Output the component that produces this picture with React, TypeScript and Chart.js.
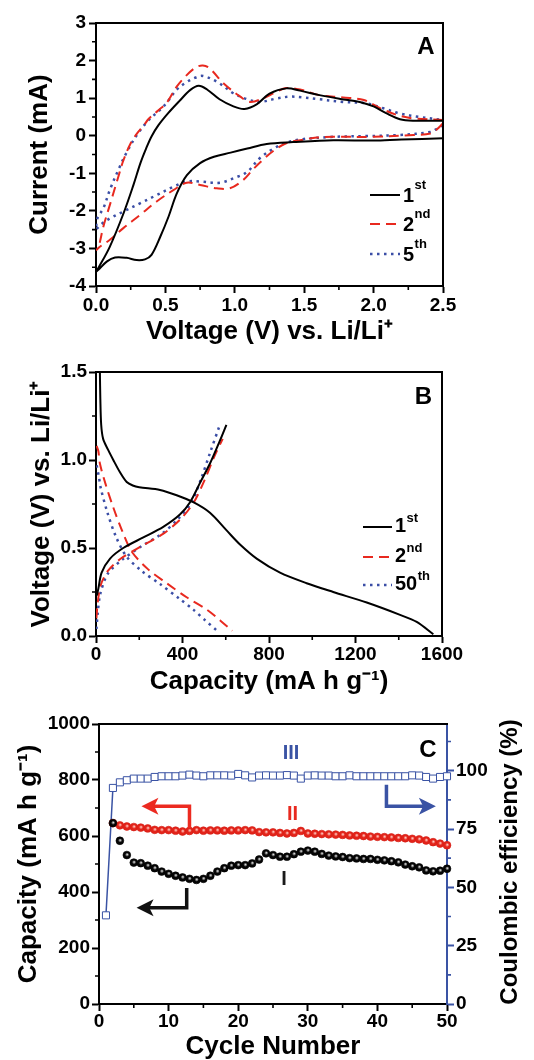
import React, { useEffect, useRef } from "react";
import { Chart, registerables } from "chart.js";
Chart.register(...registerables);

const FAMILY = '"Liberation Sans", Arial, Helvetica, sans-serif';
const BLACK = "#000000";
const RED = "#e8291f";
const BLUE = "#3b4ea6";
const CBLUE = "#3a53a4";

// ---------------- Panel A: cyclic voltammetry ----------------
const aXTicks = [0, 0.5, 1.0, 1.5, 2.0, 2.5];
const aXMinor = [0.25, 0.75, 1.25, 1.75, 2.25];
const aYTicks = [-4, -3, -2, -1, 0, 1, 2, 3];
const aYMinor = [-3.5, -2.5, -1.5, -0.5, 0.5, 1.5, 2.5];

const cv1CathV = [2.5, 2.2, 2.0, 1.71, 1.42, 1.23, 1.09, 0.97, 0.85, 0.75, 0.655, 0.583, 0.523, 0.463, 0.4, 0.353, 0.293, 0.221, 0.137, 0.077, 0.017, 0];
const cv1CathI = [-0.07, -0.1, -0.13, -0.12, -0.17, -0.22, -0.34, -0.45, -0.56, -0.73, -1.05, -1.53, -2.15, -2.69, -3.17, -3.29, -3.31, -3.25, -3.24, -3.35, -3.57, -3.62];
const cv1AnodV = [0, 0.02, 0.1, 0.2, 0.27, 0.32, 0.36, 0.4, 0.45, 0.52, 0.6, 0.68, 0.74, 0.8, 0.89, 0.99, 1.07, 1.16, 1.25, 1.37, 1.47, 1.61, 1.76, 1.9, 2.0, 2.09, 2.19, 2.29, 2.5];
const cv1AnodI = [-3.62, -3.5, -2.95, -2.05, -1.31, -0.73, -0.35, -0.02, 0.28, 0.6, 0.92, 1.22, 1.33, 1.23, 0.97, 0.78, 0.71, 0.84, 1.12, 1.26, 1.2, 1.08, 0.98, 0.9, 0.78, 0.6, 0.44, 0.4, 0.4];

const cv2CathV = [2.5, 2.45, 2.41, 2.29, 2.0, 1.71, 1.59, 1.47, 1.37, 1.28, 1.2, 1.13, 1.06, 0.965, 0.87, 0.75, 0.653, 0.557, 0.437, 0.317, 0.197, 0.1, 0.03, 0];
const cv2CathI = [0.33, 0.15, 0.06, 0.02, -0.03, -0.03, -0.05, -0.12, -0.2, -0.4, -0.65, -0.9, -1.18, -1.4, -1.4, -1.31, -1.25, -1.45, -1.75, -2.11, -2.46, -2.77, -2.95, -3.05];
const cv2AnodV = [0, 0.017, 0.053, 0.1, 0.161, 0.197, 0.25, 0.3, 0.34, 0.38, 0.45, 0.51, 0.58, 0.65, 0.72, 0.77, 0.82, 0.92, 1.04, 1.11, 1.2, 1.3, 1.37, 1.47, 1.61, 1.78, 1.93, 2.05, 2.17, 2.29, 2.5];
const cv2AnodI = [-3.05, -2.98, -2.42, -1.84, -1.09, -0.66, -0.2, 0.08, 0.25, 0.45, 0.68, 0.88, 1.3, 1.6, 1.82, 1.87, 1.79, 1.39, 1.04, 0.9, 0.99, 1.17, 1.27, 1.23, 1.08, 1.02, 0.95, 0.73, 0.55, 0.46, 0.42];

const cv5CathV = [2.5, 2.45, 2.41, 2.19, 1.95, 1.71, 1.47, 1.37, 1.28, 1.18, 1.09, 1.013, 0.893, 0.75, 0.653, 0.557, 0.437, 0.317, 0.197, 0.1, 0.04, 0];
const cv5CathI = [0.28, 0.17, 0.1, 0.02, -0.01, -0.03, -0.1, -0.19, -0.34, -0.6, -0.96, -1.1, -1.25, -1.22, -1.22, -1.36, -1.58, -1.8, -2.02, -2.2, -2.35, -2.5];
const cv5AnodV = [0, 0.01, 0.053, 0.1, 0.161, 0.22, 0.3, 0.38, 0.45, 0.51, 0.58, 0.65, 0.72, 0.77, 0.87, 0.99, 1.09, 1.18, 1.3, 1.4, 1.49, 1.61, 1.78, 1.95, 2.07, 2.19, 2.33, 2.5];
const cv5AnodI = [-2.5, -2.2, -1.93, -1.44, -0.91, -0.45, 0.05, 0.42, 0.65, 0.88, 1.22, 1.42, 1.55, 1.59, 1.44, 1.13, 0.97, 0.9, 0.99, 1.04, 1.02, 0.97, 0.9, 0.86, 0.73, 0.59, 0.5, 0.42];

const aLegendMain = ["1", "2", "5"];
const aLegendSup = ["st", "nd", "th"];

// ---------------- Panel B: charge/discharge profiles ----------------
const bXTicks = [0, 400, 800, 1200, 1600];
const bXMinor = [200, 600, 1000, 1400];
const bYTicks = [0, 0.5, 1.0, 1.5];
const bYMinor = [0.25, 0.75, 1.25];

const d1Cap = [18, 20, 24, 33, 55, 80, 111, 142, 170, 200, 296, 373, 450, 527, 604, 666, 743, 851, 974, 1097, 1252, 1406, 1483, 1560];
const d1V = [1.5, 1.35, 1.2, 1.12, 1.06, 1.0, 0.93, 0.875, 0.855, 0.845, 0.83, 0.8, 0.76, 0.7, 0.6, 0.52, 0.44, 0.36, 0.3, 0.25, 0.19, 0.12, 0.08, 0.01];
const c1Cap = [4, 11, 26, 65, 126, 219, 311, 388, 435, 481, 527, 573, 603];
const c1V = [0.23, 0.27, 0.36, 0.44, 0.5, 0.56, 0.62, 0.69, 0.76, 0.87, 0.98, 1.11, 1.2];

const d2Cap = [3, 11, 18, 45, 80, 120, 165, 240, 327, 419, 512, 573, 630];
const d2V = [1.08, 1.05, 0.98, 0.86, 0.73, 0.6, 0.48, 0.38, 0.3, 0.22, 0.15, 0.09, 0.03];
const c2Cap = [2, 8, 22, 55, 115, 210, 310, 388, 450, 500, 547, 586];
const c2V = [0.1, 0.19, 0.29, 0.37, 0.44, 0.51, 0.58, 0.66, 0.755, 0.88, 1.02, 1.12];

const d50Cap = [3, 14, 22, 53, 92, 142, 211, 296, 388, 450, 504, 560];
const d50V = [0.97, 0.9, 0.84, 0.7, 0.565, 0.45, 0.37, 0.295, 0.21, 0.15, 0.09, 0.03];
const c50Cap = [2, 8, 20, 55, 118, 210, 303, 380, 442, 488, 530, 570];
const c50V = [0.04, 0.13, 0.24, 0.355, 0.43, 0.51, 0.58, 0.665, 0.76, 0.9, 1.05, 1.19];

const bLegendMain = ["1", "2", "50"];
const bLegendSup = ["st", "nd", "th"];

// ---------------- Panel C: cycling ----------------
const cXTicks = [0, 10, 20, 30, 40, 50];
const cXMinor = [5, 15, 25, 35, 45];
const cYTicks = [0, 200, 400, 600, 800, 1000];
const cYMinor = [100, 300, 500, 700, 900];
const cY1Ticks = [0, 25, 50, 75, 100];
const cY1Minor = [12.5, 37.5, 62.5, 87.5, 112.5];

const cycles = [1, 2, 3, 4, 5, 6, 7, 8, 9, 10, 11, 12, 13, 14, 15, 16, 17, 18, 19, 20, 21, 22, 23, 24, 25, 26, 27, 28, 29, 30, 31, 32, 33, 34, 35, 36, 37, 38, 39, 40, 41, 42, 43, 44, 45, 46, 47, 48, 49, 50];
const capI = [null, 646, 583, 532, 505, 503, 494, 485, 473, 465, 458, 452, 447, 443, 447, 458, 473, 485, 494, 496, 496, 502, 516, 538, 532, 526, 526, 535, 544, 548, 544, 536, 530, 527, 525, 521, 520, 518, 518, 515, 513, 510, 506, 498, 492, 488, 477, 474, 476, 483];
const capII = [null, 646, 638, 634, 632, 630, 627, 622, 621, 621, 619, 616, 618, 621, 619, 620, 620, 619, 620, 620, 621, 620, 614, 613, 613, 611, 609, 611, 618, 609, 608, 607, 606, 605, 604, 602, 601, 600, 598, 597, 596, 595, 593, 592, 590, 588, 584, 578, 573, 567];
const effIII = [38.0, 92.6, 95.0, 95.9, 96.6, 96.6, 96.6, 97.3, 97.6, 97.6, 97.6, 97.9, 98.3, 97.9, 97.6, 98.0, 98.0, 98.0, 97.9, 98.6, 98.0, 97.1, 97.9, 98.0, 97.9, 97.9, 98.1, 97.9, 96.6, 97.9, 98.0, 97.9, 97.9, 97.6, 97.6, 98.0, 97.6, 97.6, 97.6, 97.6, 97.6, 97.6, 97.6, 97.6, 98.0, 97.9, 97.3, 96.6, 97.3, 97.6];

const arrowRedX = [13.0, 13.0, 6.1];
const arrowRedY = [629, 706, 706];
const arrowBlackX = [12.6, 12.6, 5.4];
const arrowBlackY = [414, 344, 344];
const arrowBlueX = [41.3, 41.3, 48.4];
const arrowBlueY1 = [94, 84.7, 84.7];
const romanText = ["I", "II", "III"];
const romanX = [26.6, 27.8, 27.6];
const romanY = [446, 676, 107.3];

// ---------------- helpers ----------------
const toPts = (xs: number[], ys: (number | null)[]) => xs.map((x, i) => ({ x, y: ys[i] }));

const tickFont = { family: FAMILY, size: 19, weight: "bold" as const, lineHeight: 1 };
const titleFont = { family: FAMILY, size: 26, weight: "bold" as const, lineHeight: 1 };

function axis(o: {
  min: number; max: number; major: number[]; fmt: (v: number) => string; dir: "x" | "y";
  size: number; position?: string; color?: string; title?: string; titlePad?: any; pad?: number;
}) {
  const col = o.color || BLACK;
  return {
    type: "linear",
    position: o.position || (o.dir === "x" ? "bottom" : "left"),
    min: o.min,
    max: o.max,
    afterBuildTicks: (s: any) => { s.ticks = o.major.map((v) => ({ value: v })); },
    afterFit: (s: any) => { if (o.dir === "x") s.height = o.size; else s.width = o.size; },
    ticks: {
      font: tickFont, color: BLACK, padding: o.pad ?? 3, autoSkip: false, maxRotation: 0, minRotation: 0,
      callback: (v: any) => o.fmt(Number(v)),
    },
    grid: { display: true, drawOnChartArea: false, drawTicks: true, tickLength: 7, tickWidth: 2, tickColor: col },
    border: { display: true, color: col, width: 2 },
    title: o.title
      ? { display: true, text: o.title, font: titleFont, color: BLACK, padding: o.titlePad }
      : { display: false },
  };
}

type Minor = { id: string; values: number[]; color?: string };

function drawFrameAndMinor(chart: any, minors: Minor[], drawRight: boolean) {
  const { ctx, chartArea: a } = chart;
  ctx.save();
  ctx.strokeStyle = BLACK;
  ctx.lineWidth = 2;
  ctx.beginPath();
  ctx.moveTo(a.left - 1, a.top);
  ctx.lineTo(a.right + 1, a.top);
  if (drawRight) {
    ctx.moveTo(a.right, a.top);
    ctx.lineTo(a.right, a.bottom);
  }
  ctx.stroke();
  ctx.lineWidth = 1.6;
  for (const m of minors) {
    const s = chart.scales[m.id];
    ctx.strokeStyle = m.color || BLACK;
    ctx.beginPath();
    for (const v of m.values) {
      const p = s.getPixelForValue(v);
      if (s.isHorizontal()) {
        ctx.moveTo(p, a.bottom);
        ctx.lineTo(p, a.bottom + 4);
      } else if (s.position === "left") {
        ctx.moveTo(a.left - 4, p);
        ctx.lineTo(a.left, p);
      } else {
        ctx.moveTo(a.right, p);
        ctx.lineTo(a.right + 4, p);
      }
    }
    ctx.stroke();
  }
  ctx.restore();
}

function drawLetter(chart: any, letter: string, dx: number, dy: number) {
  const { ctx, chartArea: a } = chart;
  ctx.save();
  ctx.fillStyle = BLACK;
  ctx.font = `bold 24px ${FAMILY}`;
  ctx.textAlign = "center";
  ctx.textBaseline = "alphabetic";
  ctx.fillText(letter, a.right - dx, a.top + dy);
  ctx.restore();
}

function drawLegend(chart: any, mains: string[], sups: string[], x0: number, x1: number, tx: number, rows: number[], baseOff: number, supOff: number) {
  const { ctx, chartArea: a } = chart;
  ctx.save();
  chart.data.datasets.forEach((d: any, i: number) => {
    const y = a.top + rows[i];
    ctx.strokeStyle = d.borderColor;
    ctx.lineWidth = d.borderWidth;
    ctx.setLineDash(d.borderDash || []);
    ctx.beginPath();
    ctx.moveTo(a.right - x0, y);
    ctx.lineTo(a.right - x1, y);
    ctx.stroke();
    ctx.setLineDash([]);
    ctx.fillStyle = BLACK;
    ctx.textAlign = "left";
    ctx.textBaseline = "alphabetic";
    ctx.font = `bold 20px ${FAMILY}`;
    const x = a.right - tx;
    ctx.fillText(mains[i], x, y + baseOff);
    const w = ctx.measureText(mains[i]).width;
    ctx.font = `bold 13px ${FAMILY}`;
    ctx.fillText(sups[i], x + w + 0.5, y - supOff);
  });
  ctx.restore();
}

function sphere(base: string, light: string) {
  return (c: any) => {
    const chart = c.chart;
    const raw = c.raw;
    if (!raw || raw.y == null || !chart.chartArea) return base;
    const xs = chart.scales.x;
    const ys = chart.scales[c.dataset.yAxisID || "y"];
    const px = xs.getPixelForValue(raw.x);
    const py = ys.getPixelForValue(raw.y);
    const g = chart.ctx.createRadialGradient(px + 0.4, py - 0.6, 0.2, px, py, 4.3);
    g.addColorStop(0, light);
    g.addColorStop(0.45, base);
    g.addColorStop(1, base);
    return g;
  };
}

function drawArrow(ctx: CanvasRenderingContext2D, pts: number[][], color: string) {
  const n = pts.length;
  const [tx, ty] = pts[n - 1];
  const [px, py] = pts[n - 2];
  const ang = Math.atan2(ty - py, tx - px);
  const L = 17, W = 8.5;
  const c = Math.cos(ang), s = Math.sin(ang);
  ctx.save();
  ctx.strokeStyle = color;
  ctx.fillStyle = color;
  ctx.lineWidth = 3.5;
  ctx.lineJoin = "miter";
  ctx.beginPath();
  ctx.moveTo(pts[0][0], pts[0][1]);
  for (let i = 1; i < n - 1; i++) ctx.lineTo(pts[i][0], pts[i][1]);
  ctx.lineTo(tx - c * L * 0.7, ty - s * L * 0.7);
  ctx.stroke();
  ctx.beginPath();
  ctx.moveTo(tx, ty);
  ctx.lineTo(tx - L * c + W * s, ty - L * s - W * c);
  ctx.lineTo(tx - 0.75 * L * c, ty - 0.75 * L * s);
  ctx.lineTo(tx - L * c - W * s, ty - L * s + W * c);
  ctx.closePath();
  ctx.fill();
  ctx.restore();
}

const baseOptions = {
  responsive: false,
  animation: false,
  events: [] as any[],
  plugins: { legend: { display: false }, tooltip: { enabled: false } },
};

function configA(): any {
  const datasets = [
    { label: "1st", data: [...toPts(cv1CathV, cv1CathI), ...toPts(cv1AnodV, cv1AnodI)], borderColor: BLACK, borderWidth: 2, borderDash: [] as number[] },
    { label: "2nd", data: [...toPts(cv2CathV, cv2CathI), ...toPts(cv2AnodV, cv2AnodI)], borderColor: RED, borderWidth: 2, borderDash: [10, 6] },
    { label: "5th", data: [...toPts(cv5CathV, cv5CathI), ...toPts(cv5AnodV, cv5AnodI)], borderColor: BLUE, borderWidth: 2.5, borderDash: [2.5, 4.5] },
  ].map((d) => ({ ...d, pointRadius: 0, tension: 0.35, fill: false }));
  return {
    type: "line",
    data: { datasets },
    options: {
      ...baseOptions,
      layout: { padding: { top: 23, right: 91, left: 0, bottom: 0 } },
      scales: {
        x: axis({ min: 0, max: 2.5, major: aXTicks, fmt: (v) => v.toFixed(1), dir: "x", size: 59, pad: 3, title: "Voltage (V) vs. Li/Li\u207A", titlePad: { top: 0, bottom: 0 } }),
        y: axis({ min: -4, max: 3, major: aYTicks, fmt: (v) => String(v), dir: "y", size: 96, pad: 3, title: "Current (mA)", titlePad: { top: 27, bottom: 0 } }),
      },
    },
    plugins: [{
      id: "decorA",
      afterDraw(chart: any) {
        drawFrameAndMinor(chart, [{ id: "x", values: aXMinor }, { id: "y", values: aYMinor }], true);
        drawLegend(chart, aLegendMain, aLegendSup, 73, 43, 40, [172, 201, 231], 7, 6);
        drawLetter(chart, "A", 17, 31);
      },
    }],
  };
}

function configB(): any {
  // discharge branch, a gap, then charge branch (same cycle, same style)
  const mk = (dc: number[], dv: number[], cc: number[], cv: number[]) => [
    ...toPts(dc, dv),
    { x: cc[0], y: null },
    ...toPts(cc, cv),
  ];
  const datasets = [
    { label: "1st", data: mk(d1Cap, d1V, c1Cap, c1V), borderColor: BLACK, borderWidth: 2, borderDash: [] as number[] },
    { label: "2nd", data: mk(d2Cap, d2V, c2Cap, c2V), borderColor: RED, borderWidth: 2, borderDash: [10, 6] },
    { label: "50th", data: mk(d50Cap, d50V, c50Cap, c50V), borderColor: BLUE, borderWidth: 2.5, borderDash: [2.5, 4.5] },
  ].map((d) => ({ ...d, pointRadius: 0, tension: 0.3, fill: false, spanGaps: false }));
  return {
    type: "line",
    data: { datasets },
    options: {
      ...baseOptions,
      layout: { padding: { top: 42, right: 92, left: 0, bottom: 0 } },
      scales: {
        x: axis({ min: 0, max: 1600, major: bXTicks, fmt: (v) => String(v), dir: "x", size: 64, pad: 2, title: "Capacity (mA h g\u207B\u00B9)", titlePad: { top: 0, bottom: 5 } }),
        y: axis({ min: 0, max: 1.5, major: bYTicks, fmt: (v) => v.toFixed(1), dir: "y", size: 96, pad: 2, title: "Voltage (V) vs. Li/Li\u207A", titlePad: { top: 29, bottom: 0 } }),
      },
    },
    plugins: [{
      id: "decorB",
      afterDraw(chart: any) {
        drawFrameAndMinor(chart, [{ id: "x", values: bXMinor }, { id: "y", values: bYMinor }], true);
        drawLegend(chart, bLegendMain, bLegendSup, 79, 50, 47, [155, 185, 213], 5, 5);
        drawLetter(chart, "B", 18.5, 32);
      },
    }],
  };
}

function configC(): any {
  const datasets = [
    {
      label: "I", data: toPts(cycles, capI), yAxisID: "y", showLine: false, pointStyle: "circle", pointRadius: 3.9,
      pointBackgroundColor: sphere("#050505", "#d8d8d8"), pointBorderColor: "#000", pointBorderWidth: 0.6, clip: false,
    },
    {
      label: "II", data: toPts(cycles, capII), yAxisID: "y", showLine: false, pointStyle: "circle", pointRadius: 3.9,
      pointBackgroundColor: sphere("#e3241a", "#ffc8c0"), pointBorderColor: "#d41b12", pointBorderWidth: 0.6, clip: false,
    },
    {
      label: "III", data: toPts(cycles, effIII), yAxisID: "y1", showLine: true, borderColor: CBLUE, borderWidth: 1.5, tension: 0,
      pointStyle: "rect", pointRadius: 5, pointBackgroundColor: "#ffffff", pointBorderColor: CBLUE, pointBorderWidth: 1, clip: false,
    },
  ];
  return {
    type: "line",
    data: { datasets },
    options: {
      ...baseOptions,
      layout: { padding: { top: 34, right: 0, left: 0, bottom: 0 } },
      scales: {
        x: axis({ min: 0, max: 50, major: cXTicks, fmt: (v) => String(v), dir: "x", size: 56, pad: 1, title: "Cycle Number", titlePad: { top: 0, bottom: 0 } }),
        y: axis({ min: 0, max: 1000, major: cYTicks, fmt: (v) => String(v), dir: "y", size: 99, pad: 2, title: "Capacity (mA h g\u207B\u00B9)", titlePad: { top: 16, bottom: 0 } }),
        y1: axis({ min: 0, max: 120, major: cY1Ticks, fmt: (v) => String(v), dir: "y", size: 87, pad: 2, position: "right", color: CBLUE }),
      },
    },
    plugins: [{
      id: "decorC",
      afterDraw(chart: any) {
        drawFrameAndMinor(chart, [
          { id: "x", values: cXMinor },
          { id: "y", values: cYMinor },
          { id: "y1", values: cY1Minor, color: CBLUE },
        ], false);
        const { ctx, chartArea: a, scales } = chart;
        const X = scales.x, Y = scales.y, Y1 = scales.y1;
        drawArrow(ctx, arrowRedX.map((x, i) => [X.getPixelForValue(x), Y.getPixelForValue(arrowRedY[i])]), "#ec2a20");
        drawArrow(ctx, arrowBlackX.map((x, i) => [X.getPixelForValue(x), Y.getPixelForValue(arrowBlackY[i])]), "#111111");
        drawArrow(ctx, arrowBlueX.map((x, i) => [X.getPixelForValue(x), Y1.getPixelForValue(arrowBlueY1[i])]), CBLUE);
        ctx.save();
        ctx.font = `bold 20px ${FAMILY}`;
        ctx.textAlign = "center";
        ctx.textBaseline = "middle";
        const romanColors = ["#1a1a1a", "#e8291f", CBLUE];
        romanText.forEach((t, i) => {
          const sc = i === 2 ? Y1 : Y;
          ctx.fillStyle = romanColors[i];
          ctx.fillText(t, X.getPixelForValue(romanX[i]), sc.getPixelForValue(romanY[i]));
        });
        // right axis title (reads bottom-to-top)
        ctx.fillStyle = BLACK;
        ctx.font = `bold 24px ${FAMILY}`;
        ctx.translate(Y1.right - 24, (a.top + a.bottom) / 2 - 2);
        ctx.rotate(-Math.PI / 2);
        ctx.fillText("Coulombic efficiency (%)", 0, 0);
        ctx.restore();
        drawLetter(chart, "C", 19, 33);
      },
    }],
  };
}

export default function App() {
  const refA = useRef<HTMLCanvasElement>(null);
  const refB = useRef<HTMLCanvasElement>(null);
  const refC = useRef<HTMLCanvasElement>(null);
  useEffect(() => {
    const a = new Chart(refA.current as HTMLCanvasElement, configA());
    const b = new Chart(refB.current as HTMLCanvasElement, configB());
    const c = new Chart(refC.current as HTMLCanvasElement, configC());
    return () => { a.destroy(); b.destroy(); c.destroy(); };
  }, []);
  const cs: React.CSSProperties = { position: "absolute", left: 0 };
  return (
    <div style={{ position: "absolute", left: 0, top: 0, width: 534, height: 1060, background: "#ffffff", overflow: "hidden" }}>
      <canvas ref={refA} width={534} height={345} style={{ ...cs, top: 0, width: 534, height: 345 }} />
      <canvas ref={refB} width={534} height={370} style={{ ...cs, top: 330, width: 534, height: 370 }} />
      <canvas ref={refC} width={534} height={370} style={{ ...cs, top: 690, width: 534, height: 370 }} />
    </div>
  );
}
